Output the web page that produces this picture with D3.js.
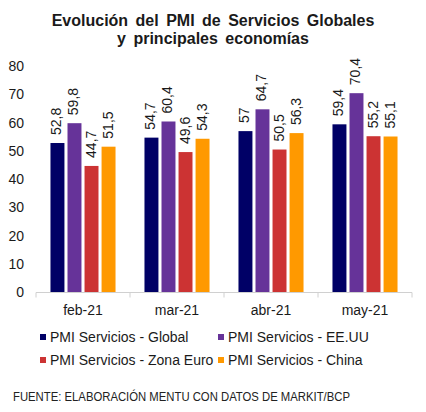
<!DOCTYPE html>
<html>
<head>
<meta charset="utf-8">
<script src="https://cdn.jsdelivr.net/npm/d3@7"></script>
<style>
  body { margin: 0; background: #fff; }
  text { font-family: "Liberation Sans", Arial, sans-serif; fill: #1a1a1a; }
</style>
</head>
<body>
<div class="chart"></div>
<script>
const width = 426;
const height = 412;

// data
const months = ['feb-21', 'mar-21', 'abr-21', 'may-21'];
const seriesNames = ['PMI Servicios - Global', 'PMI Servicios - EE.UU', 'PMI Servicios - Zona Euro', 'PMI Servicios - China'];
const global = [52.8, 54.7, 57, 59.4];
const eeuu = [59.8, 60.4, 64.7, 70.4];
const zonaEuro = [44.7, 49.6, 50.5, 55.2];
const china = [51.5, 54.3, 56.3, 55.1];
const yTicks = [0, 10, 20, 30, 40, 50, 60, 70, 80];
const colors = ['#000066', '#663399', '#cc3333', '#ff9900'];

const allSeries = [global, eeuu, zonaEuro, china];

const svg = d3.select('.chart').append('svg')
    .attr('width', width)
    .attr('height', height);

// title
const title = svg.append('text')
    .attr('text-anchor', 'middle')
    .style('font-weight', 'bold')
    .style('font-size', '16px')
    .style('word-spacing', '3px');
title.append('tspan').attr('x', 213).attr('y', 26).text('Evolución del PMI de Servicios Globales');
title.append('tspan').attr('x', 213).attr('y', 44).text('y principales economías');

/*      scales       */
const yScale = d3.scaleLinear()
    .domain([0, 80])
    .range([292.5, 66]);

const x0 = d3.scaleBand()
    .domain(months)
    .range([36, 412])
    .padding(0);

const x1 = d3.scaleBand()
    .domain(d3.range(4))
    .range([0, x0.bandwidth()])
    .paddingInner(0.18)
    .paddingOuter(0.85);

/*      y labels (no axis line)      */
svg.append('g').selectAll('text')
    .data(yTicks)
    .enter()
    .append('text')
    .attr('x', 24)
    .attr('y', d => yScale(d))
    .attr('dy', '0.35em')
    .attr('text-anchor', 'end')
    .style('font-size', '14px')
    .text(d => d);

/*      bars + value labels      */
const groups = svg.append('g').selectAll('g')
    .data(months)
    .enter()
    .append('g')
    .attr('transform', d => `translate(${x0(d)},0)`);

groups.selectAll('rect')
    .data((m, i) => allSeries.map((s, k) => ({ k: k, v: s[i] })))
    .enter()
    .append('rect')
    .attr('x', d => x1(d.k))
    .attr('y', d => yScale(d.v))
    .attr('width', x1.bandwidth())
    .attr('height', d => yScale(0) - yScale(d.v))
    .attr('fill', d => colors[d.k]);

groups.selectAll('text')
    .data((m, i) => allSeries.map((s, k) => ({ k: k, v: s[i] })))
    .enter()
    .append('text')
    .attr('transform', d => `translate(${x1(d.k) + x1.bandwidth() / 2 + 4},${yScale(d.v) - 8}) rotate(-90)`)
    .style('font-size', '14px')
    .text(d => String(d.v).replace('.', ','));

/*      x axis      */
const xAxis = svg.append('g')
    .attr('transform', `translate(0,${yScale(0)})`);
xAxis.append('line')
    .attr('x1', 36).attr('x2', 412)
    .attr('stroke', '#d0d0d0');
xAxis.selectAll('.tick')
    .data(months.map(m => x0(m)).concat([412]))
    .enter()
    .append('line')
    .attr('x1', d => d).attr('x2', d => d)
    .attr('y1', 0).attr('y2', 5)
    .attr('stroke', '#d0d0d0');
xAxis.selectAll('.lab')
    .data(months)
    .enter()
    .append('text')
    .attr('x', d => x0(d) + x0.bandwidth() / 2)
    .attr('y', 22)
    .attr('text-anchor', 'middle')
    .style('font-size', '14px')
    .text(d => d);

/*      legend      */
const legendPos = [[40, 337], [218, 337], [40, 360], [218, 360]];
const legend = svg.append('g').selectAll('g')
    .data(seriesNames)
    .enter()
    .append('g')
    .attr('transform', (d, i) => `translate(${legendPos[i][0]},${legendPos[i][1]})`);
legend.append('rect')
    .attr('x', 0).attr('y', -3)
    .attr('width', 6).attr('height', 6)
    .attr('fill', (d, i) => colors[i]);
legend.append('text')
    .attr('x', 10)
    .attr('dy', '0.35em')
    .style('font-size', '14px')
    .text(d => d);

// source
svg.append('text')
    .attr('x', 13)
    .attr('y', 401)
    .attr('textLength', 337)
    .attr('lengthAdjust', 'spacingAndGlyphs')
    .style('font-size', '12px')
    .style('fill', '#222')
    .text('FUENTE: ELABORACIÓN MENTU CON DATOS DE MARKIT/BCP');
</script>
</body>
</html>
